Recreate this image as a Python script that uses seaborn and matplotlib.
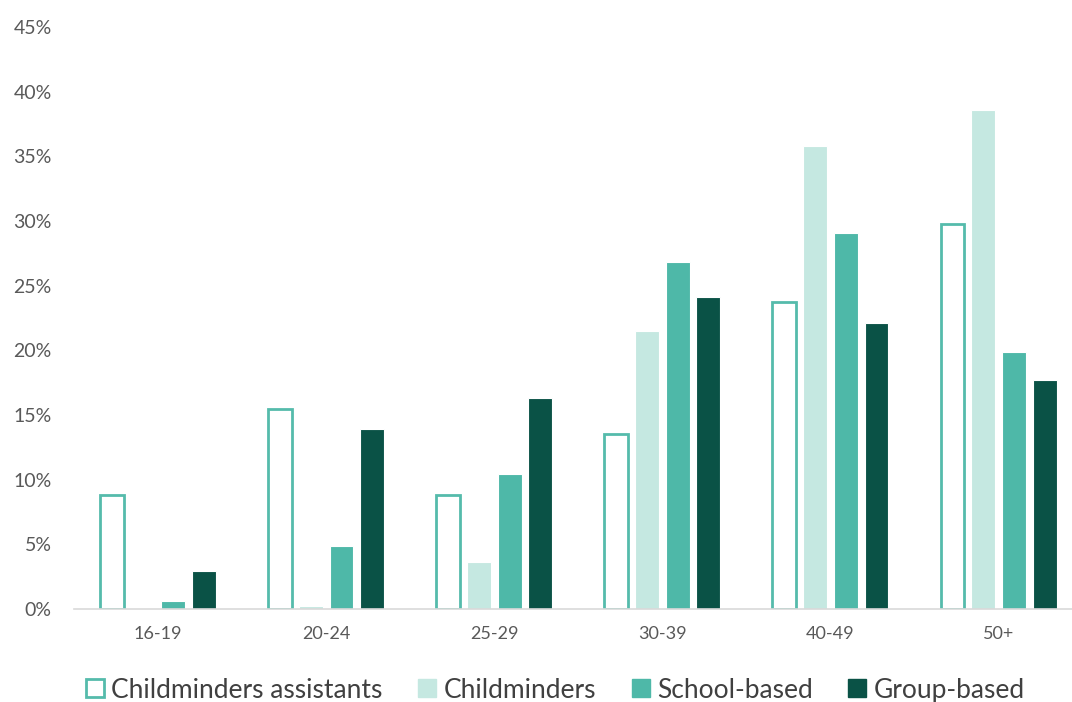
import matplotlib
matplotlib.use("Agg")
import matplotlib.pyplot as plt
import seaborn as sns
import pandas as pd
from matplotlib.patches import Patch
from matplotlib.ticker import PercentFormatter

categories = ["16-19", "20-24", "25-29", "30-39", "40-49", "50+"]
series = ["Childminders assistants", "Childminders", "School-based", "Group-based"]
childminders_assistants = [8.8, 15.5, 8.8, 13.5, 23.7, 29.8]
childminders = [0.0, 0.2, 3.6, 21.5, 35.8, 38.6]
school_based = [0.6, 4.9, 10.4, 26.8, 29.1, 19.9]
group_based = [2.9, 13.9, 16.3, 24.1, 22.1, 17.7]

values = [childminders_assistants, childminders, school_based, group_based]
rows = []
for s, vals in zip(series, values):
    for c, v in zip(categories, vals):
        rows.append({"age": c, "series": s, "value": v / 100})
df = pd.DataFrame(rows)

edge_teal = "#55BBAB"
fills = ["#FFFFFF", "#C5E8E1", "#4EB8A8", "#0A5246"]
palette = dict(zip(series, fills))

sns.set_theme(style="white")
plt.rcParams["font.family"] = ["Lato", "DejaVu Sans"]

fig = plt.figure(figsize=(10.72, 7.02), dpi=100)
ax = fig.add_axes([74 / 1072, 0.1325, 1008.6 / 1072, 0.829])

sns.barplot(data=df, x="age", y="value", hue="series", hue_order=series,
            order=categories, palette=palette, width=0.73, gap=0.22,
            ax=ax, legend=False, saturation=1, edgecolor="white", linewidth=0.8)

# outline style for Childminders assistants bars
n = len(categories)
for patch in ax.patches[:n]:
    patch.set_facecolor("white")
    patch.set_edgecolor(edge_teal)
    patch.set_linewidth(2.0)

ax.set_ylim(0, 0.45)
ax.set_xlim(-0.5, 5.5)
ax.set_yticks([i * 0.05 for i in range(10)])
ax.yaxis.set_major_formatter(PercentFormatter(1.0, decimals=0))
ax.set_xlabel("")
ax.set_ylabel("")
for s in ["top", "right", "left"]:
    ax.spines[s].set_visible(False)
ax.spines["bottom"].set_color("#D9D9D9")
ax.spines["bottom"].set_linewidth(1.2)
ax.tick_params(axis="y", length=0, labelsize=14, labelcolor="#595959", pad=16)
ax.tick_params(axis="x", length=0, labelsize=13, labelcolor="#595959", pad=12)

handles = [
    Patch(facecolor="white", edgecolor=edge_teal, linewidth=2.0),
    Patch(facecolor=fills[1], edgecolor=fills[1]),
    Patch(facecolor=fills[2], edgecolor=fills[2]),
    Patch(facecolor=fills[3], edgecolor=fills[3]),
]
leg = fig.legend(handles, series, loc="center", bbox_to_anchor=(0.518, 0.017),
                 ncol=4, frameon=False, fontsize=19, handlelength=0.68,
                 handleheight=0.68, handletextpad=0.28, columnspacing=1.35)
for t in leg.get_texts():
    t.set_color("#404040")

fig.savefig("out.png", dpi=100)
